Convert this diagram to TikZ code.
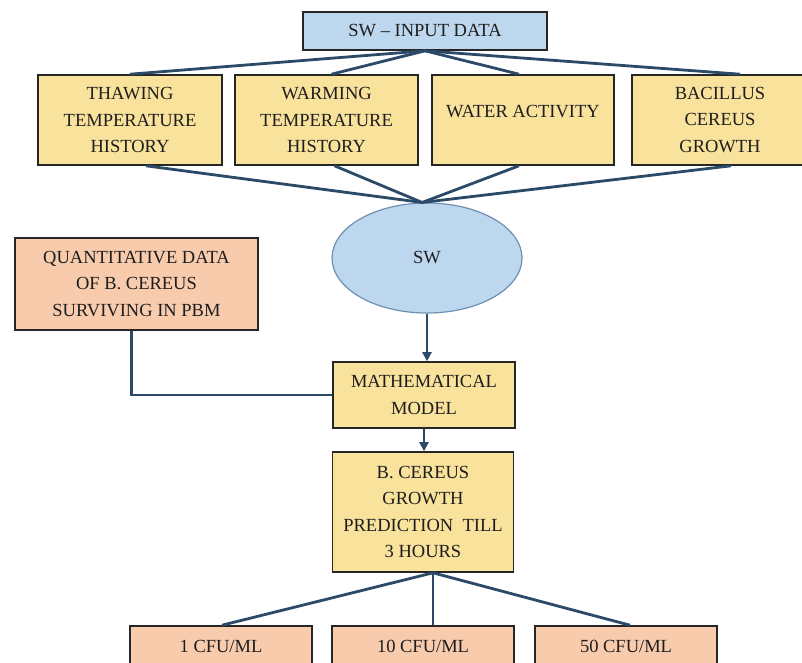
\documentclass[tikz,border=0pt]{standalone}
\usepackage{fontspec}
\setmainfont{Liberation Serif}
\usetikzlibrary{shapes.geometric,arrows.meta,calc}
\definecolor{bluefill}{HTML}{BDD7EE}
\definecolor{blueedge}{HTML}{6F8FB3}
\definecolor{yellowfill}{HTML}{F9E29C}
\definecolor{salmonfill}{HTML}{F8CBAD}
\definecolor{linecol}{HTML}{2B4A68}
\definecolor{edgecol}{HTML}{262626}
\definecolor{textcol}{HTML}{1E1E1E}
\begin{document}
\begin{tikzpicture}[x=1pt,y=-1pt,
  basebox/.style={draw=edgecol, line width=1.6pt, rectangle, inner sep=0pt, align=center,
    text=textcol, font=\fontsize{18.5}{26.5}\selectfont},
  bluebox/.style={basebox, fill=bluefill},
  yellowbox/.style={basebox, fill=yellowfill},
  salmonbox/.style={basebox, fill=salmonfill},
  swell/.style={ellipse, draw=blueedge, line width=1.2pt, fill=bluefill, inner sep=0pt,
    text=textcol, font=\fontsize{18.5}{26.5}\selectfont},
  conn/.style={draw=linecol, line width=2.8pt},
  arr/.style={conn, -{Triangle[length=9pt,width=9pt]}}
]
\useasboundingbox (0,0) rectangle (802,662);
\clip (0,0) rectangle (802,662);
\fill[white] (0,0) rectangle (802,662);

% nodes
\node[bluebox, minimum width=244pt, minimum height=38pt] (in) at (425,31) {SW -- INPUT DATA};

\node[yellowbox, minimum width=184pt, minimum height=90pt] (t1) at (130,120) {THAWING\\TEMPERATURE\\HISTORY};
\node[yellowbox, minimum width=183pt, minimum height=90pt] (t2) at (326.5,120) {WARMING\\TEMPERATURE\\HISTORY};
\node[yellowbox, minimum width=182pt, minimum height=90pt] (t3) at (523,120) {\raisebox{8pt}[\height][\depth]{WATER ACTIVITY}};
\node[yellowbox, minimum width=176pt, minimum height=90pt] (t4) at (720,120) {BACILLUS\\CEREUS\\GROWTH};

\node[swell, minimum width=190pt, minimum height=110pt] (sw) at (427,258) {SW};

\node[salmonbox, minimum width=243pt, minimum height=92pt] (q) at (136.5,284) {QUANTITATIVE DATA\\OF B. CEREUS\\SURVIVING IN PBM};

\node[yellowbox, minimum width=182pt, minimum height=66pt] (m) at (424,395) {MATHEMATICAL\\MODEL};

\node[yellowbox, minimum width=181pt, minimum height=120pt] (b) at (423,512) {B. CEREUS\\GROWTH\\PREDICTION\ \ TILL\\3 HOURS};

\node[salmonbox, minimum width=182pt, minimum height=40pt] (c1) at (221,646) {1 CFU/ML};
\node[salmonbox, minimum width=182pt, minimum height=40pt] (c2) at (423,646) {10 CFU/ML};
\node[salmonbox, minimum width=182pt, minimum height=40pt] (c3) at (626,646) {50 CFU/ML};

% connectors: input to factors
\draw[conn] (in.south) -- (t1.north);
\draw[conn] (in.south) -- ($(t2.north)+(5,0)$);
\draw[conn] (in.south) -- ($(t3.north)+(-4,0)$);
\draw[conn] (in.south) -- ($(t4.north)+(20,0)$);

% factors to SW
\draw[conn] ($(t1.south)+(16,0)$) -- (sw.95);
\draw[conn] ($(t2.south)+(8,0)$) -- (sw.95);
\draw[conn] ($(t3.south)+(-4,0)$) -- (sw.95);
\draw[conn] ($(t4.south)+(11,0)$) -- (sw.95);

% SW to model
\draw[arr] (sw.south) -- (sw.south |- m.north);
\draw[conn] ($(q.south)+(-5,0)$) |- (m.west);

% model to prediction
\draw[arr] (m.south) -- (m.south |- b.north);

% prediction to outcomes
\draw[conn] ($(b.south)+(10,0)$) -- ($(c1.north)+(1,0)$);
\draw[conn] ($(b.south)+(10,0)$) -- ($(c2.north)+(10,0)$);
\draw[conn] ($(b.south)+(10,0)$) -- ($(c3.north)+(4,0)$);
\end{tikzpicture}
\end{document}
